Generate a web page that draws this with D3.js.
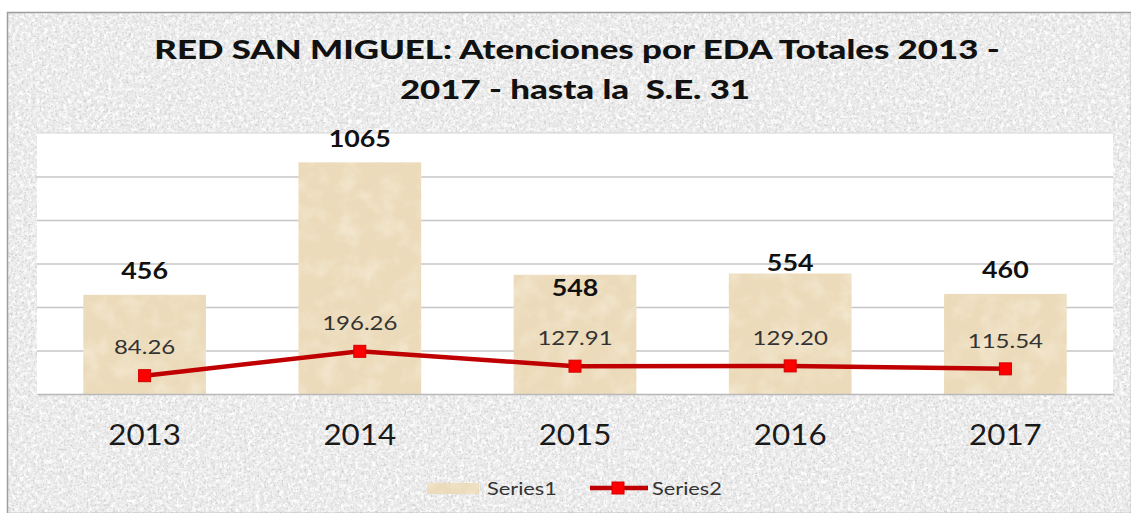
<!DOCTYPE html>
<html><head><meta charset="utf-8">
<script src="https://cdn.jsdelivr.net/npm/d3@7"></script>
<style>
html,body{margin:0;padding:0;background:#fff;}
svg{display:block;}
text{font-family:Lato,"Open Sans",sans-serif;white-space:pre;}
</style></head>
<body>
<svg id="chart" width="1131" height="513"></svg>
<script>
// ---- data ----
const categories = ["2013","2014","2015","2016","2017"];
const series1 = [456, 1065, 548, 554, 460];
const series2 = [84.26, 196.26, 127.91, 129.20, 115.54];
const series2Labels = ["84.26","196.26","127.91","129.20","115.54"];
const yTicks = [0, 200, 400, 600, 800, 1000, 1200];
const legendNames = ["Series1", "Series2"];
const titleLines = ["RED SAN MIGUEL: Atenciones por EDA Totales 2013 -", "2017 - hasta la  S.E. 31"];

// ---- drawing ----
const W = 1131, H = 513;
const svg = d3.select("#chart");
const defs = svg.append("defs");

function noiseFilter(id, freq, oct, seed, rgb, a, b, blur){
  const f = defs.append("filter").attr("id",id).attr("x",0).attr("y",0).attr("width",1).attr("height",1);
  f.append("feTurbulence").attr("type","fractalNoise").attr("baseFrequency",freq).attr("numOctaves",oct).attr("seed",seed).attr("result","n");
  f.append("feColorMatrix").attr("type","matrix")
    .attr("values",`0 0 0 0 ${rgb[0]}  0 0 0 0 ${rgb[1]}  0 0 0 0 ${rgb[2]}  ${a} 0 0 0 ${b}`).attr("result","c");
  if (blur) f.append("feGaussianBlur").attr("stdDeviation",blur);
}
noiseFilter("graniteDark", "0.45", 3, 4, [0.58,0.58,0.58], 2.4, -1.2, 0.5);
noiseFilter("graniteLight", "0.25", 2, 9, [1,1,1], -2.6, 1.6, 0.4);
noiseFilter("tanNoise", "0.05", 3, 2, [0.98,0.94,0.86], 2.0, -0.85, 0);
noiseFilter("tanDark", "0.2", 2, 7, [0.80,0.70,0.52], 2.0, -0.95, 0.5);

// outer chart area
const frame = {x:7, y:12, w:W-7, h:H-12};
const bgG = svg.append("g");
bgG.append("rect").attr("x",frame.x).attr("y",frame.y).attr("width",frame.w).attr("height",frame.h).attr("fill","#e9e9e9");
bgG.append("rect").attr("x",frame.x).attr("y",frame.y).attr("width",frame.w).attr("height",frame.h).attr("fill","#000").attr("filter","url(#graniteLight)");
bgG.append("rect").attr("x",frame.x).attr("y",frame.y).attr("width",frame.w).attr("height",frame.h).attr("fill","#000").attr("filter","url(#graniteDark)");
bgG.append("rect").attr("x",frame.x+0.5).attr("y",frame.y+0.5).attr("width",frame.w).attr("height",frame.h).attr("fill","none").attr("stroke","#9e9e9e").attr("stroke-width",1.5);

const plot = {left:37, right:1113, top:133, bottom:394};
svg.append("rect").attr("x",plot.left).attr("y",plot.top).attr("width",plot.right-plot.left).attr("height",plot.bottom-plot.top).attr("fill","#fff");

const x = d3.scaleBand().domain(categories).range([plot.left, plot.right]).paddingInner(0.43).paddingOuter(0.215);
const y = d3.scaleLinear().domain([0,1200]).range([plot.bottom, plot.top]);

// gridlines via axis
const grid = svg.append("g").attr("transform",`translate(${plot.left},0)`)
  .call(d3.axisLeft(y).tickValues(yTicks.filter(v=>v>0 && v<1200)).tickSize(-(plot.right-plot.left)).tickFormat(""));
grid.select(".domain").remove();
grid.selectAll(".tick line").attr("stroke","#c6c6c6").attr("stroke-width",1.6);
svg.append("line").attr("x1",plot.left).attr("x2",plot.right).attr("y1",y(1200)).attr("y2",y(1200)).attr("stroke","#d4d4d4").attr("stroke-width",1);

// bars
const bars = svg.append("g");
categories.forEach((c,i)=>{
  const bx = x(c), bw = x.bandwidth(), by = y(series1[i]), bh = y(0)-y(series1[i]);
  bars.append("rect").attr("x",bx).attr("y",by).attr("width",bw).attr("height",bh).attr("fill","#ecdbba");
  bars.append("rect").attr("x",bx).attr("y",by).attr("width",bw).attr("height",bh).attr("fill","#000").attr("filter","url(#tanNoise)").attr("opacity",0.45);
  bars.append("rect").attr("x",bx).attr("y",by).attr("width",bw).attr("height",bh).attr("fill","#000").attr("filter","url(#tanDark)").attr("opacity",0.3);
});

// baseline via x axis
const xAxis = svg.append("g").attr("transform",`translate(0,${plot.bottom})`)
  .call(d3.axisBottom(x).tickSize(0).tickFormat(""));
xAxis.select(".domain").attr("stroke","#b8b8b8").attr("stroke-width",1.6);

// helper for horizontally-stretched text
function txt(g, s, px, py, opts){
  return g.append("text").text(s)
    .attr("transform",`translate(${px},${py}) scale(${opts.sx||1},1)`)
    .attr("text-anchor",opts.anchor||"middle")
    .attr("dominant-baseline","central")
    .attr("font-size",opts.size)
    .attr("font-weight",opts.weight||"normal")
    .attr("fill",opts.fill||"#111");
}

// title
const tg = svg.append("g");
txt(tg, titleLines[0], 577, 49, {size:26, weight:"900", sx:1.34, fill:"#111"});
txt(tg, titleLines[1], 575, 89, {size:26, weight:"900", sx:1.34, fill:"#111"});

// category labels
const cg = svg.append("g");
categories.forEach(c=> txt(cg, c, x(c)+x.bandwidth()/2, 434, {size:28, sx:1.12, fill:"#1a1a1a"}));

// bar value labels (548 sits inside its bar, 554 closer to its bar, as in the original)
const barLabelDy = [-24, -24, 13, -11, -24];
const lg = svg.append("g");
categories.forEach((c,i)=> txt(lg, String(series1[i]), x(c)+x.bandwidth()/2, y(series1[i])+barLabelDy[i], {size:22, weight:"bold", sx:1.22, fill:"#111"}));

// line series
const cx = c => x(c)+x.bandwidth()/2;
const line = d3.line().x((d,i)=>cx(categories[i])).y(d=>y(d));
svg.append("path").datum(series2).attr("d",line).attr("fill","none").attr("stroke","#c00000").attr("stroke-width",4.5);
svg.append("g").selectAll("rect").data(series2).join("rect")
  .attr("x",(d,i)=>cx(categories[i])-6).attr("y",d=>y(d)-6).attr("width",12).attr("height",12)
  .attr("fill","#ff0000").attr("stroke","#d00000").attr("stroke-width",1);
categories.forEach((c,i)=> txt(lg, series2Labels[i], cx(c), y(series2[i])-29, {size:20, sx:1.2, fill:"#333"}));

// legend
const leg = svg.append("g");
leg.append("rect").attr("x",427).attr("y",483).attr("width",52).attr("height",11).attr("fill","#ecdbba");
leg.append("rect").attr("x",427).attr("y",483).attr("width",52).attr("height",11).attr("fill","#000").attr("filter","url(#tanNoise)").attr("opacity",0.45);
txt(leg, legendNames[0], 487, 488, {size:17, sx:1.28, anchor:"start", fill:"#333"});
leg.append("line").attr("x1",590).attr("x2",648).attr("y1",488).attr("y2",488).attr("stroke","#c00000").attr("stroke-width",4.5);
leg.append("rect").attr("x",612).attr("y",482).attr("width",12).attr("height",12).attr("fill","#ff0000").attr("stroke","#d00000");
txt(leg, legendNames[1], 652, 488, {size:17, sx:1.28, anchor:"start", fill:"#333"});
</script>
</body></html>
